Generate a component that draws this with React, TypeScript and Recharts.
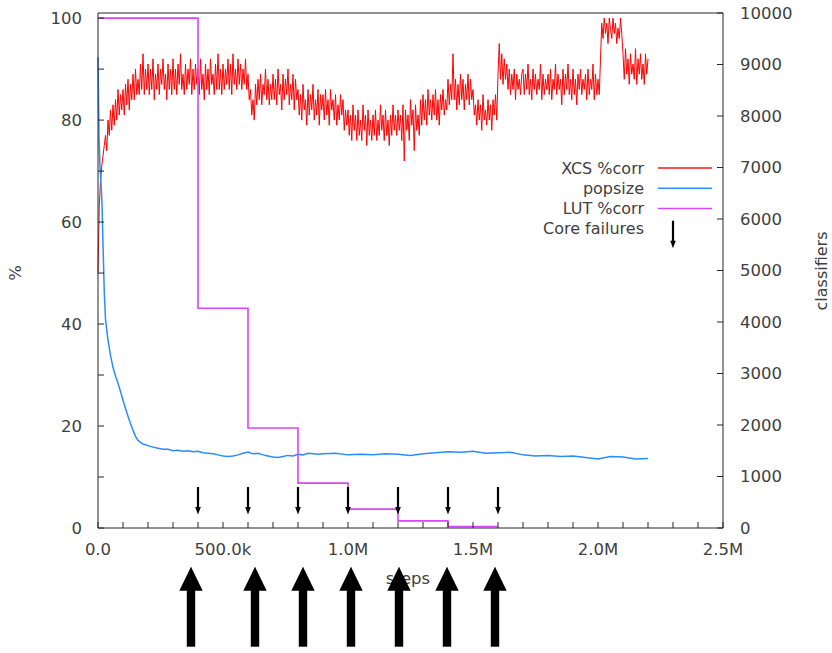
import { ComposedChart, Line, Scatter, XAxis, YAxis, ReferenceLine } from 'recharts'

// XCS %corr, one sample every 5k steps from 0 to 2.2M (one row = 100k steps)
const XCS_SAMPLE = 5000
const xcsPct = [
  50, 63, 68, 71, 73, 75, 77, 74, 80, 77, 82, 78, 83, 79, 84, 80, 86, 81, 85, 82,
  86, 81, 87, 83, 88, 82, 87, 84, 89, 84, 90, 85, 88, 85, 91, 86, 93, 85, 90, 86,
  91, 85, 90, 86, 92, 84, 89, 86, 91, 85, 90, 87, 92, 86, 89, 84, 91, 86, 90, 85,
  92, 86, 90, 85, 91, 87, 93, 86, 89, 85, 91, 86, 90, 87, 92, 85, 90, 86, 91, 87,
  90, 85, 92, 86, 89, 84, 91, 86, 90, 85, 92, 87, 89, 85, 91, 86, 93, 86, 90, 85,
  91, 86, 90, 87, 92, 86, 91, 85, 93, 87, 90, 86, 92, 87, 91, 86, 90, 87, 92, 86,
  89, 84, 86, 81, 84, 80, 87, 83, 88, 84, 89, 83, 87, 85, 90, 84, 88, 83, 87, 84,
  89, 84, 88, 83, 90, 85, 87, 82, 89, 84, 88, 85, 90, 83, 87, 84, 89, 82, 88, 84,
  86, 81, 85, 80, 87, 82, 84, 79, 86, 81, 85, 82, 87, 80, 84, 81, 86, 79, 85, 82,
  85, 80, 86, 81, 84, 79, 86, 82, 84, 80, 85, 79, 83, 80, 85, 81, 84, 78, 82, 79,
  82, 77, 81, 76, 83, 78, 81, 76, 82, 77, 80, 76, 83, 78, 81, 75, 82, 77, 80, 76,
  81, 77, 82, 76, 80, 77, 83, 78, 81, 76, 82, 77, 80, 75, 81, 77, 83, 78, 81, 77,
  82, 78, 81, 76, 83, 72, 82, 78, 81, 76, 84, 79, 82, 74, 83, 78, 81, 77, 84, 79,
  85, 80, 84, 79, 86, 81, 84, 80, 85, 81, 86, 80, 84, 79, 85, 82, 86, 81, 84, 82,
  88, 83, 87, 84, 93, 84, 88, 82, 87, 83, 89, 84, 88, 82, 87, 84, 89, 83, 88, 84,
  86, 81, 83, 79, 84, 80, 83, 78, 85, 80, 82, 79, 84, 80, 83, 78, 84, 81, 85, 80,
  89, 95, 88, 93, 87, 92, 88, 91, 86, 90, 85, 89, 86, 90, 84, 89, 86, 88, 85, 89,
  90, 85, 89, 86, 91, 85, 88, 84, 90, 86, 89, 85, 88, 86, 91, 84, 89, 85, 88, 86,
  89, 85, 90, 84, 88, 86, 91, 85, 89, 86, 88, 83, 90, 85, 89, 86, 91, 85, 88, 84,
  90, 85, 88, 83, 89, 86, 90, 85, 88, 86, 89, 84, 90, 85, 88, 86, 91, 84, 89, 85,
  88, 85, 92, 99, 96, 100, 97, 99, 95, 100, 98, 96, 100, 97, 99, 95, 98, 96, 100, 97,
  93, 88, 94, 89, 92, 87, 93, 89, 91, 88, 94, 87, 92, 89, 93, 88, 91, 87, 93, 89, 92,
]

const popSteps = [
  0, 4000, 8000, 12000, 16000, 20000, 25000, 30000, 40000, 50000,
  60000, 70000, 80000, 90000, 100000, 110000, 120000, 130000, 140000, 150000,
  160000, 170000, 180000, 200000, 220000, 240000, 260000, 280000, 300000, 320000,
  340000, 360000, 380000, 400000, 420000, 440000, 460000, 480000, 500000, 520000,
  540000, 560000, 580000, 600000, 620000, 640000, 660000, 680000, 700000, 720000,
  740000, 760000, 780000, 800000, 820000, 840000, 860000, 880000, 900000, 950000,
  1000000, 1050000, 1100000, 1150000, 1200000, 1250000, 1300000, 1350000, 1400000, 1450000,
  1500000, 1550000, 1600000, 1650000, 1700000, 1750000, 1800000, 1850000, 1900000, 1950000,
  2000000, 2050000, 2100000, 2150000, 2200000,
]
const popValues = [
  9140, 7600, 7000, 6700, 6300, 5500, 4600, 4050, 3650, 3350,
  3120, 2950, 2810, 2650, 2480, 2320, 2170, 2030, 1900, 1780,
  1700, 1660, 1630, 1600, 1570, 1550, 1530, 1530, 1500, 1510,
  1490, 1500, 1480, 1490, 1460, 1450, 1440, 1420, 1400, 1390,
  1400, 1420, 1450, 1475, 1440, 1450, 1420, 1400, 1380, 1370,
  1390, 1410, 1400, 1430, 1420, 1450, 1440, 1430, 1440, 1450,
  1420, 1430, 1420, 1440, 1430, 1410, 1440, 1460, 1480, 1470,
  1490, 1450, 1460, 1470, 1420, 1400, 1410, 1390, 1400, 1370,
  1340, 1390, 1380, 1340, 1350,
]

const lutSteps = [0, 400000, 600000, 800000, 1000000, 1200000, 1400000, 1600000]
const lutValues = [100, 43.1, 19.6, 8.8, 3.7, 1.4, 0.3, 0.3]

const failureSteps = [400000, 600000, 800000, 1000000, 1200000, 1400000, 1600000]
const failureLevel = 5.1

// the big hand-drawn arrows under the axis
const bigArrowSteps = [372000, 628000, 820000, 1012000, 1204000, 1396000, 1588000]

const xTicks = [
  0, 100000, 200000, 300000, 400000, 500000, 600000, 700000, 800000, 900000,
  1000000, 1100000, 1200000, 1300000, 1400000, 1500000, 1600000, 1700000, 1800000, 1900000,
  2000000, 2100000, 2200000, 2300000, 2400000, 2500000,
]
const xTickLabels: Record<number, string> = {
  0: '0.0', 500000: '500.0k', 1000000: '1.0M', 1500000: '1.5M', 2000000: '2.0M', 2500000: '2.5M',
}
const pctTicks = [0, 10, 20, 30, 40, 50, 60, 70, 80, 90, 100]
const clsTicks = [0, 1000, 2000, 3000, 4000, 5000, 6000, 7000, 8000, 9000, 10000]

const legendItems = [
  { name: 'XCS %corr', color: '#ff1a1a' },
  { name: 'popsize', color: '#2b8cff' },
  { name: 'LUT %corr', color: '#d946f5' },
  { name: 'Core failures', color: '' },
]

const xcsData = xcsPct.map((v, i) => ({ step: i * XCS_SAMPLE, pct: v }))
const popData = popSteps.map((s, i) => ({ step: s, cls: popValues[i] }))
const lutData = lutSteps.map((s, i) => ({ step: s, pct: lutValues[i] }))
const failureData = failureSteps.map((s) => ({ step: s, lvl: failureLevel }))
const bigArrowData = bigArrowSteps.map((s) => ({ step: s, lvl: 0 }))

const FONT = 'DejaVu Sans'
const TEXT = '#404040'
const AXIS = '#262626'

function SmallArrow({ cx, cy }: { cx: number; cy: number }) {
  return (
    <g>
      <line x1={cx} y1={cy - 15} x2={cx} y2={cy + 7} stroke="#000" strokeWidth={2.2} />
      <polygon points={`${cx - 2.8},${cy + 5} ${cx + 2.8},${cy + 5} ${cx},${cy + 12.5}`} fill="#000" />
    </g>
  )
}

function BigArrow({ cx, cy }: { cx: number; cy: number }) {
  return (
    <g>
      <polygon points={`${cx},${cy + 38.7} ${cx - 11.7},${cy + 62.7} ${cx + 11.7},${cy + 62.7}`} fill="#000" />
      <rect x={cx - 4.2} y={cy + 62} width={8.4} height={56.7} fill="#000" />
    </g>
  )
}

const tickStyle = { fontSize: 16.5, fill: TEXT, fontFamily: FONT }

export default function App() {
  return (
    <div style={{ position: 'absolute', left: 0, top: 0, width: 832, height: 653, background: '#fff' }}>
      <svg width={832} height={653} style={{ position: 'absolute', left: 0, top: 0 }} fontFamily={FONT}>
        <text x={15.5} y={273} fill={TEXT} fontSize={16.5} textAnchor="middle" dominantBaseline="central" transform="rotate(-90 15.5 273)">%</text>
        <text x={821} y={271} fill={TEXT} fontSize={16} textAnchor="middle" dominantBaseline="central" transform="rotate(-90 821 271)">classifiers</text>
        <text x={408} y={578} fill={TEXT} fontSize={16.5} textAnchor="middle" dominantBaseline="central">steps</text>
        {legendItems.map((item, i) => (
          <g key={item.name}>
            <text x={644} y={168 + i * 20.3} fill={TEXT} fontSize={16} textAnchor="end" dominantBaseline="central">{item.name}</text>
            {item.color ? (
              <line x1={658} x2={712} y1={168 + i * 20.3} y2={168 + i * 20.3} stroke={item.color} strokeWidth={1.5} />
            ) : (
              <SmallArrow cx={673} cy={235.7} />
            )}
          </g>
        ))}
      </svg>
      <div style={{ position: 'absolute', left: 0, top: 0 }}>
        <ComposedChart width={832} height={653} margin={{ top: 13, right: 0, bottom: 0, left: 0 }}>
          <XAxis
            type="number"
            dataKey="step"
            domain={[0, 2500000]}
            ticks={xTicks}
            interval={0}
            height={125}
            stroke={AXIS}
            tickSize={-6}
            tickMargin={21}
            tick={tickStyle}
            tickFormatter={(v: number) => xTickLabels[v] ?? ''}
          />
          <YAxis
            yAxisId="left"
            orientation="left"
            type="number"
            domain={[0, 101]}
            ticks={pctTicks}
            interval={0}
            width={98}
            stroke={AXIS}
            tickSize={-6}
            tickMargin={22}
            tick={tickStyle}
            tickFormatter={(v: number) => (v % 20 === 0 ? String(v) : '')}
          />
          <YAxis
            yAxisId="right"
            orientation="right"
            type="number"
            domain={[0, 10000]}
            ticks={clsTicks}
            interval={0}
            width={109}
            stroke={AXIS}
            tickSize={-6}
            tickMargin={23}
            tick={tickStyle}
          />
          <ReferenceLine yAxisId="right" y={10000} stroke={AXIS} />
          <Line data={xcsData} yAxisId="left" dataKey="pct" stroke="#ff0000" strokeWidth={1} dot={false} isAnimationActive={false} />
          <Line data={popData} yAxisId="right" dataKey="cls" stroke="#2b8cff" strokeWidth={1.5} dot={false} isAnimationActive={false} />
          <Line data={lutData} yAxisId="left" dataKey="pct" type="stepAfter" stroke="#d946f5" strokeWidth={1.6} dot={false} isAnimationActive={false} />
          <Scatter data={failureData} yAxisId="left" dataKey="lvl" shape={(p: any) => <SmallArrow cx={p.cx} cy={p.cy} />} isAnimationActive={false} />
          <Scatter data={bigArrowData} yAxisId="left" dataKey="lvl" shape={(p: any) => <BigArrow cx={p.cx} cy={p.cy} />} isAnimationActive={false} />
        </ComposedChart>
      </div>
    </div>
  )
}
